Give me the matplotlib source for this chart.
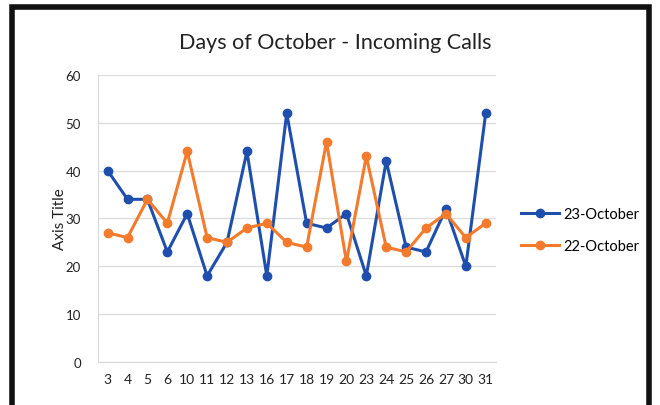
import matplotlib
matplotlib.use("Agg")
import matplotlib.pyplot as plt
from matplotlib.patches import Rectangle

days = ["3", "4", "5", "6", "10", "11", "12", "13", "16", "17", "18", "19", "20",
        "23", "24", "25", "26", "27", "30", "31"]
oct23 = [40, 34, 34, 23, 31, 18, 25, 44, 18, 52, 29, 28, 31, 18, 42, 24, 23, 32, 20, 52]
oct22 = [27, 26, 34, 29, 44, 26, 25, 28, 29, 25, 24, 46, 21, 43, 24, 23, 28, 31, 26, 29]
yticks = [0, 10, 20, 30, 40, 50, 60]

plt.rcParams['font.family'] = ['Lato', 'DejaVu Sans']

fig = plt.figure(figsize=(6.6, 4.06), dpi=100)
fig.patch.set_facecolor('white')
fig.patches.append(Rectangle((0.018, -0.02), 0.965, 1.0, transform=fig.transFigure,
                             fill=False, edgecolor='#111111', linewidth=4))

ax = fig.add_axes([0.148, 0.106, 0.603, 0.707])
x = list(range(len(days)))
ax.plot(x, oct23, color='#1f4fad', marker='o', markersize=6, linewidth=2.2, label='23-October')
ax.plot(x, oct22, color='#f47a2c', marker='o', markersize=6, linewidth=2.2, label='22-October')

ax.set_xlim(-0.5, len(days) - 0.5)
ax.set_ylim(0, 60)
ax.set_yticks(yticks)
ax.set_xticks(x)
ax.set_xticklabels(days)
ax.tick_params(axis='both', length=0, labelsize=10, colors='#222222')
ax.tick_params(axis='y', pad=12, labelsize=9.5)
ax.tick_params(axis='x', pad=8)
ax.grid(axis='y', color='#dddddd', linewidth=1)
ax.set_axisbelow(True)
for s in ['top', 'right']:
    ax.spines[s].set_visible(False)
ax.spines['left'].set_color('#d9d9d9')
ax.spines['bottom'].set_color('#d9d9d9')
ax.set_ylabel('Axis Title', fontsize=11, color='#222222', labelpad=-1)

fig.text(0.508, 0.893, 'Days of October - Incoming Calls', ha='center', va='center',
         fontsize=15.5, color='#222222')

ax.legend(loc='center left', bbox_to_anchor=(1.03, 0.46), frameon=False,
          fontsize=10.5, handlelength=2.6, labelspacing=1.2, handletextpad=0.3)

fig.savefig('out.png', dpi=100, facecolor='white')
